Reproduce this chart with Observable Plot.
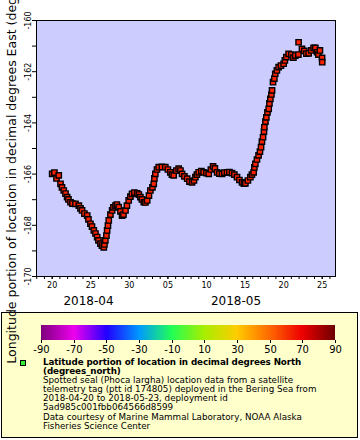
<!DOCTYPE html>
<html>
<head>
<meta charset="utf-8">
<script src="https://cdn.jsdelivr.net/npm/d3@7"></script>
<script src="https://cdn.jsdelivr.net/npm/@observablehq/plot@0.6"></script>
<style>
  html, body { margin: 0; padding: 0; background: #ffffff; }
  #wrap { position: relative; width: 360px; height: 440px; overflow: hidden; font-family: "DejaVu Sans", sans-serif; }
  #chart { position: absolute; left: 0; top: 0; }
  #legendbox { position: absolute; left: 1px; top: 312px; width: 357px; height: 126px; box-sizing: border-box;
               border: 1px solid #000; background: #ffffcc; }
  #ramp { position: absolute; left: 31px; top: 325px; }
  #swatch { position: absolute; left: 20px; top: 360px; width: 4px; height: 4px; background: #33ee33; border: 1px solid #000; }
  #ltext { position: absolute; left: 43px; top: 358px; font-size: 8.75px; line-height: 9.1px; color: #000; white-space: pre; }
  #ltext b { font-weight: bold; letter-spacing: -0.1px; }
  #ytitle { position: absolute; left: 11px; top: 148px; transform: translate(-50%, -50%) rotate(-90deg);
            white-space: nowrap; font-size: 12.5px; color: #000; z-index: 5; }
</style>
</head>
<body>
<div id="wrap">
  <div id="chart"></div>
  <div id="legendbox"></div>
  <div id="ramp"></div>
  <div id="swatch"></div>
  <div id="ltext"></div>
  <div id="ytitle"></div>
</div>
<script>
// ---- data (time, longitude in degrees East) ----
const times = [
  "2018-04-20T00:00Z","2018-04-20T07:00Z","2018-04-20T13:30Z","2018-04-20T20:30Z","2018-04-21T02:00Z",
  "2018-04-21T06:30Z","2018-04-21T12:00Z","2018-04-21T17:30Z","2018-04-21T22:30Z","2018-04-22T02:40Z",
  "2018-04-22T09:00Z","2018-04-22T15:00Z","2018-04-23T00:30Z","2018-04-23T11:00Z","2018-04-23T16:00Z",
  "2018-04-23T21:00Z","2018-04-24T04:20Z","2018-04-24T13:00Z","2018-04-24T16:50Z","2018-04-24T23:00Z",
  "2018-04-25T03:50Z","2018-04-25T09:30Z","2018-04-25T14:40Z","2018-04-25T20:00Z","2018-04-26T00:00Z",
  "2018-04-26T06:00Z","2018-04-26T10:50Z","2018-04-26T16:30Z","2018-04-26T18:30Z","2018-04-26T21:30Z",
  "2018-04-27T00:45Z","2018-04-27T03:00Z","2018-04-27T05:30Z","2018-04-27T08:00Z","2018-04-27T13:10Z",
  "2018-04-27T18:30Z","2018-04-27T22:30Z","2018-04-28T05:00Z","2018-04-28T09:20Z","2018-04-28T15:00Z",
  "2018-04-28T20:20Z","2018-04-29T01:30Z","2018-04-29T05:40Z","2018-04-29T12:00Z","2018-04-29T16:30Z",
  "2018-04-29T22:00Z","2018-04-30T03:20Z","2018-04-30T08:30Z","2018-04-30T15:50Z","2018-05-01T00:30Z",
  "2018-05-01T05:45Z","2018-05-01T10:30Z","2018-05-01T15:10Z","2018-05-01T21:00Z","2018-05-02T02:00Z",
  "2018-05-02T07:30Z","2018-05-02T13:00Z","2018-05-02T17:30Z","2018-05-02T23:50Z","2018-05-03T04:00Z",
  "2018-05-03T06:00Z","2018-05-03T09:00Z","2018-05-03T14:00Z","2018-05-03T19:30Z","2018-05-04T05:20Z",
  "2018-05-04T16:00Z","2018-05-05T00:00Z","2018-05-05T07:30Z","2018-05-05T12:30Z","2018-05-05T18:00Z",
  "2018-05-06T02:25Z","2018-05-06T09:30Z","2018-05-06T15:00Z","2018-05-06T20:00Z","2018-05-07T03:20Z",
  "2018-05-07T12:00Z","2018-05-07T19:00Z","2018-05-08T03:00Z","2018-05-08T09:00Z","2018-05-08T13:30Z",
  "2018-05-08T18:10Z","2018-05-08T23:45Z","2018-05-09T08:10Z","2018-05-09T15:00Z","2018-05-10T00:00Z",
  "2018-05-10T07:00Z","2018-05-10T13:40Z","2018-05-10T20:30Z","2018-05-11T02:10Z","2018-05-11T09:00Z",
  "2018-05-11T16:10Z","2018-05-12T00:30Z","2018-05-12T07:40Z","2018-05-12T16:00Z","2018-05-12T23:20Z",
  "2018-05-13T07:30Z","2018-05-13T14:50Z","2018-05-13T23:00Z","2018-05-14T06:30Z","2018-05-14T14:30Z",
  "2018-05-14T20:25Z","2018-05-15T01:00Z","2018-05-15T08:50Z","2018-05-15T16:30Z","2018-05-15T21:20Z",
  "2018-05-16T02:45Z","2018-05-16T05:00Z","2018-05-16T08:00Z","2018-05-16T13:00Z","2018-05-16T18:00Z",
  "2018-05-16T22:20Z","2018-05-17T01:45Z","2018-05-17T04:30Z","2018-05-17T08:00Z","2018-05-17T10:45Z",
  "2018-05-17T12:00Z","2018-05-17T15:20Z","2018-05-17T18:15Z","2018-05-17T21:40Z","2018-05-18T01:30Z",
  "2018-05-18T03:50Z","2018-05-18T06:45Z","2018-05-18T10:00Z","2018-05-18T12:00Z","2018-05-18T15:00Z",
  "2018-05-18T19:10Z","2018-05-18T22:00Z","2018-05-19T03:00Z","2018-05-19T08:30Z","2018-05-19T15:40Z",
  "2018-05-20T00:00Z","2018-05-20T03:50Z","2018-05-20T08:30Z","2018-05-20T15:30Z","2018-05-21T00:00Z",
  "2018-05-21T06:20Z","2018-05-21T12:30Z","2018-05-21T21:50Z","2018-05-21T22:30Z","2018-05-22T09:00Z",
  "2018-05-22T16:20Z","2018-05-22T22:35Z","2018-05-23T05:45Z","2018-05-23T14:10Z","2018-05-23T21:15Z",
  "2018-05-24T02:40Z","2018-05-24T08:00Z","2018-05-24T12:10Z","2018-05-24T16:50Z","2018-05-24T23:30Z",
  "2018-05-25T00:00Z"
];
const lons = [
  -165.99,-165.94,-166.17,-166.05,-166.38,
  -166.52,-166.64,-166.76,-166.90,-166.99,
  -167.10,-167.15,-167.16,-167.23,-167.34,
  -167.42,-167.54,-167.62,-167.77,-167.94,
  -168.05,-168.20,-168.32,-168.46,-168.59,
  -168.72,-168.79,-168.86,-168.75,-168.59,
  -168.40,-168.20,-168.01,-167.81,-167.58,
  -167.42,-167.30,-167.23,-167.19,-167.29,
  -167.46,-167.62,-167.58,-167.42,-167.23,
  -167.03,-166.88,-166.77,-166.72,-166.75,
  -166.80,-166.90,-166.99,-167.10,-167.11,
  -167.03,-166.84,-166.64,-166.52,-166.38,
  -166.17,-165.99,-165.82,-165.73,-165.72,
  -165.73,-165.82,-165.93,-166.02,-166.05,
  -165.86,-165.79,-165.86,-165.99,-166.09,
  -166.18,-166.29,-166.32,-166.25,-166.12,
  -166.02,-165.93,-165.88,-165.93,-165.96,
  -165.99,-165.82,-165.70,-165.78,-165.93,
  -165.98,-165.99,-165.94,-165.93,-165.92,
  -165.96,-166.02,-166.12,-166.23,-166.32,
  -166.37,-166.36,-166.25,-166.12,-166.02,
  -165.93,-165.74,-165.60,-165.43,-165.27,
  -165.12,-164.95,-164.73,-164.56,-164.34,
  -164.17,-163.95,-163.78,-163.59,-163.45,
  -163.24,-163.06,-162.89,-162.73,-162.41,
  -162.27,-162.08,-161.95,-161.82,-161.76,
  -161.69,-161.56,-161.43,-161.30,-161.33,
  -161.45,-161.37,-161.33,-160.85,-161.11,
  -161.19,-161.29,-161.28,-161.17,-161.07,
  -161.07,-161.24,-161.33,-161.17,-161.46,
  -161.63
];
const xDomain = ["2018-04-17T23:15Z", "2018-05-26T17:20Z"];
const yDomain = [-170, -160];
const xMajorTicks = ["2018-04-20","2018-04-25","2018-04-30","2018-05-05","2018-05-10","2018-05-15","2018-05-20","2018-05-25"];
const yMajorTicks = [-170, -168, -166, -164, -162, -160];
const yMinorTicks = [-169, -167, -165, -163, -161];
const monthLabels = ["2018-04", "2018-05"];
const monthCenters = ["2018-04-24T17:00Z", "2018-05-13T19:40Z"];
const colorStops = [-90, -70, -50, -30, -10, 10, 30, 50, 70, 90];
const colorRange = ["#7f007f", "#ee00ee", "#2200ff", "#0099ff", "#22ff55", "#a8ee00", "#ffcc00", "#ff6a00", "#ee0000", "#700000"];
const colorTicks = [-90, -70, -50, -30, -10, 10, 30, 50, 70, 90];
const yTitle = "Longitude portion of location in decimal degrees East (degrees_east)";
const legendBold = ["Latitude portion of location in decimal degrees North", "(degrees_north)"];
const legendLines = [
  "Spotted seal (Phoca largha) location data from a satellite",
  "telemetry tag (ptt id 174805) deployed in the Bering Sea from",
  "2018-04-20 to 2018-05-23, deployment id",
  "5ad985c001fbb064566d8599",
  "Data courtesy of Marine Mammal Laboratory, NOAA Alaska",
  "Fisheries Science Center"
];

// ---- build ----
const data = times.map((t, i) => ({time: new Date(t), lon: lons[i]}));
const months = monthLabels.map((m, i) => ({date: new Date(monthCenters[i]), label: m}));
const xStart = new Date(xDomain[0]), xEnd = new Date(xDomain[1]);
const dayTicks = d3.utcDay.range(d3.utcDay.ceil(xStart), xEnd);

const chart = Plot.plot({
  width: 360,
  height: 310,
  marginLeft: 36,
  marginRight: 25,
  marginTop: 20,
  marginBottom: 34,
  style: {background: "transparent", fontFamily: "DejaVu Sans", fontSize: "8px", color: "#000"},
  x: {type: "utc", domain: [xStart, xEnd]},
  y: {domain: yDomain},
  marks: [
    Plot.frame({fill: "#ccccff"}),
    Plot.dot(data, {x: "time", y: "lon", symbol: "square", r: 3, fill: "#ff2200", stroke: "#000", strokeWidth: 1.4}),
    Plot.frame({stroke: "#000", strokeWidth: 1}),
    Plot.axisY({ticks: yMajorTicks, tickSize: 4, tickPadding: 2, tickRotate: -90, tickFormat: d => String(d), label: null}),
    Plot.axisY({ticks: yMinorTicks, tickSize: 4, tickFormat: () => "", label: null}),
    Plot.axisX({ticks: dayTicks, tickSize: 3, tickFormat: () => "", label: null}),
    Plot.axisX({ticks: xMajorTicks.map(d => new Date(d)), tickSize: 3, tickPadding: 3, tickFormat: d3.utcFormat("%d"), label: null}),
    Plot.text(months, {x: "date", text: "label", frameAnchor: "bottom", dy: 25, fontSize: 12, lineAnchor: "middle", fill: "#000"})
  ]
});
document.getElementById("chart").appendChild(chart);

// color bar
const ramp = Plot.legend({
  color: {type: "linear", domain: colorStops, range: colorRange},
  width: 314, height: 30, marginLeft: 10, marginRight: 10, marginTop: 0, marginBottom: 15,
  ticks: colorTicks, tickSize: 3, tickFormat: d => String(d),
  style: {fontFamily: "DejaVu Sans", fontSize: "10px", color: "#000", background: "transparent"}
});
d3.select(ramp).selectAll(".tick line").attr("y1", 0).attr("y2", 3).attr("stroke", "#000");
document.getElementById("ramp").appendChild(ramp);

// legend text
const lt = document.getElementById("ltext");
lt.innerHTML = legendBold.map(s => "<b>" + s + "</b>").join("\n") + "\n" + legendLines.join("\n");
document.getElementById("ytitle").textContent = yTitle;
</script>
</body>
</html>
